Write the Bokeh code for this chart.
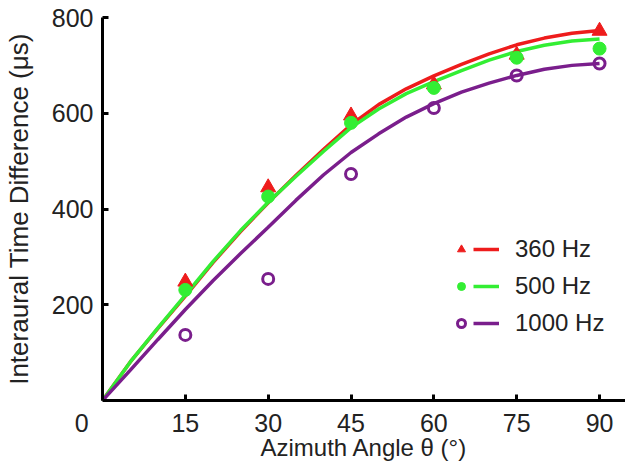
from bokeh.plotting import figure
from bokeh.models import (Range1d, FixedTicker, Legend, LegendItem)
from bokeh.embed import file_html
from bokeh.resources import INLINE

# ---- data ----
theta = [15, 30, 45, 60, 75, 90]
itd_360 = [248, 445, 595, 660, 722, 772]
itd_500 = [231, 426, 580, 653, 716, 735]
itd_1000 = [137, 254, 473, 611, 679, 704]

fit_theta = [0, 5, 10, 15, 20, 25, 30, 35, 40, 45, 50, 55, 60, 65, 70, 75, 80, 85, 90]
fit_360 = [0, 80, 150, 218, 288, 353, 413, 470, 524, 576, 618, 651, 678, 702, 724, 743, 757, 767, 773]
fit_500 = [0, 80, 151, 220, 290, 355, 414, 468, 520, 570, 609, 641, 666, 689, 711, 729, 742, 751, 755]
fit_1000 = [0, 63, 127, 190, 250, 307, 362, 418, 471, 518, 557, 592, 620, 644, 663, 679, 692, 700, 704]

series_labels = ["360 Hz", "500 Hz", "1000 Hz"]
x_ticks = [0, 15, 30, 45, 60, 75, 90]
y_ticks = [200, 400, 600, 800]

RED = "#ee1c1c"
GREEN = "#33ee33"
PURPLE = "#7a1e8c"
TXT = "#222222"
FONT = "Liberation Sans"

p = figure(width=625, height=463, output_backend="svg",
           toolbar_location=None, x_range=Range1d(0, 94.7), y_range=Range1d(0, 800),
           min_border_left=101, min_border_right=0, min_border_top=17, min_border_bottom=0)
p.outline_line_color = None
p.xgrid.visible = False
p.ygrid.visible = False
p.background_fill_color = "white"
p.border_fill_color = "white"

for ax in (p.xaxis[0], p.yaxis[0]):
    ax.axis_line_width = 3
    ax.axis_line_color = "black"
    ax.major_tick_line_width = 3
    ax.major_tick_line_color = "black"
    ax.major_tick_in = 6
    ax.major_tick_out = 0
    ax.minor_tick_in = 0
    ax.minor_tick_out = 0
    ax.major_label_text_font = FONT
    ax.major_label_text_font_size = "25px"
    ax.major_label_text_color = TXT
    ax.axis_label_text_font = FONT
    ax.axis_label_text_font_style = "normal"
    ax.axis_label_text_color = TXT

p.xaxis.ticker = FixedTicker(ticks=x_ticks)
p.xaxis.major_label_overrides = {0: "0\u2007\u2007\u2007"}
p.yaxis.ticker = FixedTicker(ticks=y_ticks)
p.xaxis.axis_label = "Azimuth Angle θ (°)"
p.yaxis.axis_label = "Interaural Time Difference (μs)"
p.xaxis.axis_label_text_font_size = "24px"
p.yaxis.axis_label_text_font_size = "26px"
p.xaxis.major_label_standoff = 8
p.xaxis.axis_label_standoff = -6
p.yaxis.major_label_standoff = 9
p.yaxis.axis_label_standoff = 15

# fitted curves
l360 = p.line(fit_theta, fit_360, line_color=RED, line_width=3.5)
l500 = p.line(fit_theta, fit_500, line_color=GREEN, line_width=3.5)
l1000 = p.line(fit_theta, fit_1000, line_color=PURPLE, line_width=3.5)

# measured points
s360 = p.scatter(theta, itd_360, marker="triangle", size=15, fill_color=RED, line_color=RED)
s500 = p.scatter(theta, itd_500, marker="circle", size=13, fill_color=GREEN, line_color=GREEN)
s1000 = p.scatter(theta, itd_1000, marker="circle", size=11, fill_color=None,
                  line_color=PURPLE, line_width=3)

# legend: markers column
leg_m = Legend(items=[LegendItem(label=" ", renderers=[r]) for r in (s360, s500, s1000)],
               location=(349, 62), orientation="vertical",
               glyph_width=20, glyph_height=30, label_height=30, label_width=1,
               label_text_font_size="1px", spacing=7, padding=0, margin=0,
               border_line_color=None, background_fill_alpha=0, label_standoff=0)
# legend: lines + labels
leg_l = Legend(items=[LegendItem(label=lab, renderers=[r])
                      for lab, r in zip(series_labels, (l360, l500, l1000))],
               location=(371, 62), orientation="vertical",
               glyph_width=26, glyph_height=30, label_height=30,
               label_text_font=FONT, label_text_font_size="24px", label_text_color=TXT,
               spacing=7, padding=0, margin=0, label_standoff=16,
               border_line_color=None, background_fill_alpha=0)
p.add_layout(leg_m)
p.add_layout(leg_l)

open("out.html", "w").write(file_html(p, INLINE))
